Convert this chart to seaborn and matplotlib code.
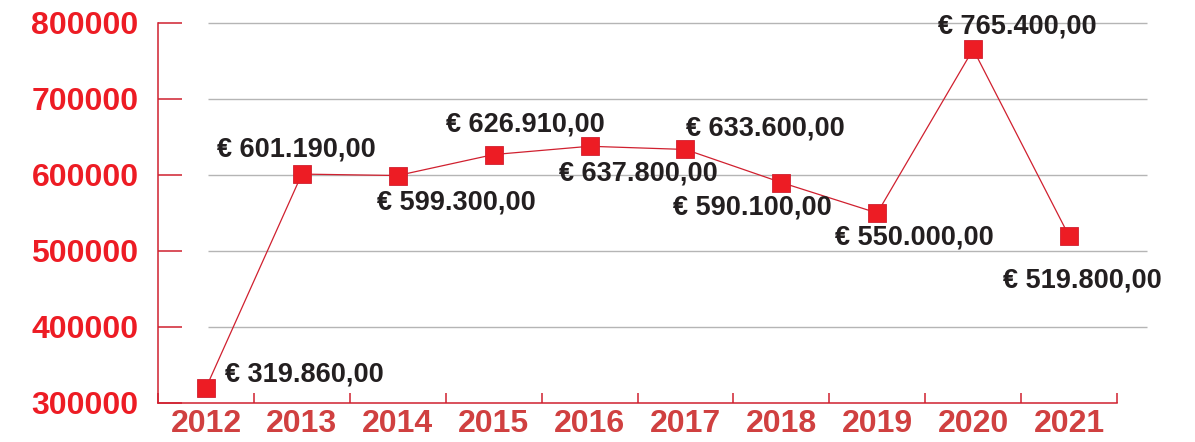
'''
Yearly amounts line chart with euro labels.
'''
import matplotlib
matplotlib.use('Agg')
import matplotlib.pyplot as plt
import pandas as pd
import seaborn as sns

years = ['2012', '2013', '2014', '2015', '2016', '2017', '2018', '2019', '2020', '2021']
amounts = [319860, 601190, 599300, 626910, 637800, 633600, 590100, 550000, 765400, 519800]
labels = ['€ 319.860,00', '€ 601.190,00', '€ 599.300,00', '€ 626.910,00', '€ 637.800,00',
          '€ 633.600,00', '€ 590.100,00', '€ 550.000,00', '€ 765.400,00', '€ 519.800,00']
y_ticks = [300000, 400000, 500000, 600000, 700000, 800000]

# label offsets from each point, in pixels (right, up)
offsets_px = [(98, 13), (-5, 25), (59, -27), (32, 30), (49, -27),
              (80, 21), (-29, -25), (37, -24), (44, 23), (13, -45)]

sns.set_style('white')
plt.rcParams['font.family'] = ['Liberation Sans', 'DejaVu Sans']

RED = '#ed1c24'
AXIS_RED = '#d0202f'
XLAB_RED = '#d04040'

df = pd.DataFrame({'year': years, 'amount': amounts})

fig = plt.figure(figsize=(11.95, 4.42), dpi=100)
ax = fig.add_axes([158 / 1195, 39 / 442, 959 / 1195, 380 / 442])

sns.lineplot(data=df, x='year', y='amount', ax=ax, color=AXIS_RED, linewidth=0.9,
             marker='s', markersize=12.5, markerfacecolor=RED, markeredgecolor=AXIS_RED,
             markeredgewidth=0.6, zorder=3)

ax.set_xlim(-0.5, len(years) - 0.5)
ax.set_ylim(y_ticks[0], y_ticks[-1])

# gridlines (shifted like the original)
for yv in y_ticks[1:]:
    ax.hlines(yv, 0.02, len(years) - 0.19, color='#b5b5b5', linewidth=1.0, zorder=1, clip_on=False)

ax.set_yticks(y_ticks)
ax.set_yticklabels([str(v) for v in y_ticks], color=RED, fontsize=23, fontweight='bold')
ax.tick_params(axis='y', left=True, direction='in', length=17, width=1.1, color=AXIS_RED, pad=14)

ax.set_xticks(range(len(years)))
ax.set_xticklabels(years, color=XLAB_RED, fontsize=23, fontweight='bold')
ax.set_xticks([i - 0.5 for i in range(len(years) + 1)], minor=True)
ax.tick_params(axis='x', which='major', bottom=False, length=0, pad=4)
ax.tick_params(axis='x', which='minor', bottom=True, direction='in', length=7, width=1.1,
               color=AXIS_RED)

for side in ['top', 'right']:
    ax.spines[side].set_visible(False)
for side in ['left', 'bottom']:
    ax.spines[side].set_color(AXIS_RED)
    ax.spines[side].set_linewidth(1.1)

ax.set_xlabel('')
ax.set_ylabel('')

for i, (txt, (dx, dy)) in enumerate(zip(labels, offsets_px)):
    ax.annotate(txt, (i, amounts[i]), xytext=(dx * 0.72, dy * 0.72), textcoords='offset points',
                ha='center', va='center', fontsize=19.5, fontweight='bold', color='#231f20',
                annotation_clip=False, zorder=4)

fig.savefig('out.png', dpi=100)
